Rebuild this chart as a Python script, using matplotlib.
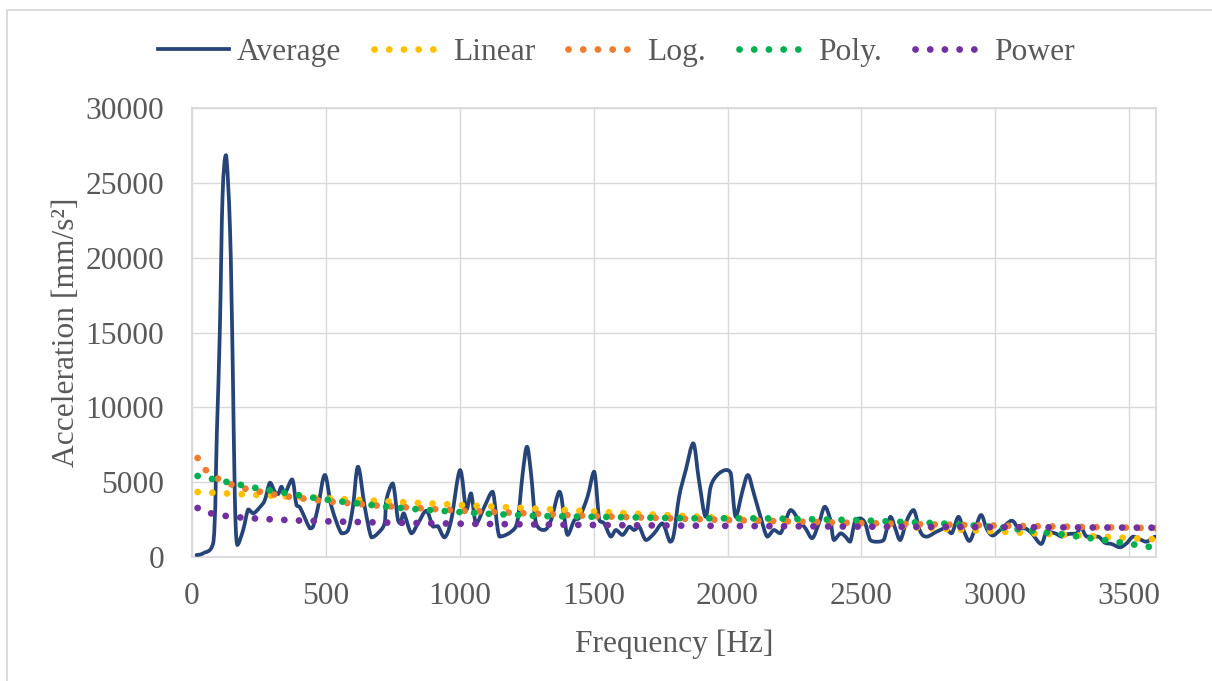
import numpy as np
import matplotlib.pyplot as plt
from matplotlib.patches import Rectangle, PathPatch
from matplotlib.path import Path
from matplotlib.lines import Line2D

# Average spectrum
freq = [17, 42, 80, 93, 104, 114, 127, 142, 152, 160, 169, 191, 210, 229, 253, 272,
        291, 309, 322, 334, 347, 374, 390, 403, 440, 452, 471, 496, 521, 558, 583,
        601, 620, 645, 670, 694, 719, 726, 750, 769, 779, 791, 819, 844, 875, 900,
        918, 943, 968, 1001, 1024, 1042, 1061, 1092, 1123, 1148, 1192, 1216, 1235,
        1251, 1266, 1285, 1316, 1341, 1372, 1390, 1403, 1428, 1446, 1477, 1502,
        1521, 1539, 1564, 1583, 1608, 1633, 1651, 1670, 1695, 1726, 1757, 1785,
        1800, 1819, 1844, 1872, 1893, 1918, 1937, 1962, 1993, 2012, 2030, 2055,
        2076, 2098, 2123, 2148, 2173, 2198, 2235, 2266, 2291, 2316, 2341, 2363,
        2384, 2397, 2422, 2440, 2458, 2477, 2496, 2514, 2533, 2558, 2583, 2608,
        2626, 2645, 2670, 2695, 2720, 2744, 2781, 2813, 2837, 2862, 2881, 2903,
        2925, 2947, 2968, 2990, 3018, 3061, 3086, 3111, 3136, 3171, 3192, 3223,
        3248, 3272, 3304, 3320, 3341, 3384, 3409, 3434, 3465, 3490, 3515, 3546,
        3564, 3596]
average = [133, 248, 1000, 8400, 15160, 24067, 26849, 21858, 12961, 4003, 800, 1804,
           3180, 2919, 3320, 3803, 4967, 4365, 4204, 4696, 4254, 5188, 3471, 3320,
           1915, 2025, 3361, 5480, 3361, 1583, 1804, 3361, 6032, 3361, 1312, 1583,
           2246, 3803, 4917, 2467, 2246, 2919, 1583, 2246, 3090, 2025, 2065, 1312,
           2467, 5811, 3140, 4254, 2246, 3361, 4365, 1362, 1694, 2467, 5590, 7367,
           5590, 2246, 1804, 2467, 4365, 2688, 1473, 2467, 2600, 4023, 5700, 2467,
           2246, 1362, 1804, 1473, 2025, 1804, 2025, 1131, 1583, 2246, 1021, 1583,
           4023, 5811, 7598, 5148, 2688, 4696, 5480, 5811, 5590, 2688, 4365, 5480,
           4254, 2688, 1362, 1804, 1583, 3140, 2467, 1915, 1252, 2246, 3361, 2467,
           1131, 1583, 1362, 1021, 2467, 2577, 2246, 1131, 1021, 1131, 2688, 1915,
           1131, 2467, 3140, 1694, 1362, 1694, 1915, 1583, 2688, 1804, 1071, 1915,
           2808, 1874, 1433, 1804, 2427, 1915, 1915, 1583, 870, 1694, 1583, 1362,
           1533, 1583, 2025, 1362, 1362, 950, 870, 650, 910, 1362, 1131, 1021, 1362]

# trendlines at a few frequencies
lin_f = [21, 3600]
lin_v = [4343, 1178]
log_f = [21, 50, 100, 150, 200, 300, 400, 500, 700, 1000, 1500, 2000, 2500, 3000, 3600]
log_v = [6615, 5826, 5195, 4826, 4564, 4195, 3933, 3730, 3424, 3100, 2731, 2469, 2266, 2100, 1934]
poly_f = [21, 131, 239, 351, 459, 571, 735, 844, 1069, 1293, 1629, 1853, 2128, 2464,
          2793, 3018, 3240, 3404, 3572, 3596]
poly_v = [5412, 5011, 4610, 4276, 3942, 3675, 3341, 3187, 2920, 2739, 2652, 2585, 2585,
          2472, 2250, 1983, 1537, 1136, 688, 640]
pow_f = [21, 50, 100, 150, 200, 300, 400, 500, 700, 1000, 1500, 2000, 2500, 3000, 3600]
pow_v = [3274, 3002, 2801, 2690, 2613, 2510, 2438, 2385, 2306, 2225, 2136, 2076, 2030, 1993, 1958]

plt.rcParams['font.family'] = ['Liberation Serif', 'DejaVu Serif']
txt = '#595959'
blue = '#264478'
fs = 22.7


def smooth_path(x, y):
    # bezier through the points, like a "smoothed line" in a spreadsheet chart;
    # control points kept inside each segment's value range so it never overshoots
    p = np.column_stack([x, y]).astype(float)
    verts = [p[0]]
    codes = [Path.MOVETO]
    n = len(p)
    for i in range(n - 1):
        p0 = p[max(i - 1, 0)]
        p3 = p[min(i + 2, n - 1)]
        c1 = p[i] + (p[i + 1] - p0) / 6
        c2 = p[i + 1] - (p3 - p[i]) / 6
        lo = min(p[i][1], p[i + 1][1])
        hi = max(p[i][1], p[i + 1][1])
        c1[1] = min(max(c1[1], lo), hi)
        c2[1] = min(max(c2[1], lo), hi)
        verts += [c1, c2, p[i + 1]]
        codes += [Path.CURVE4] * 3
    return Path(verts, codes)


fig = plt.figure(figsize=(12.12, 6.81), dpi=100)
ax = fig.add_axes([192 / 1212, 1 - 557 / 681, (1156 - 192) / 1212, (557 - 108) / 681])

ax.add_patch(PathPatch(smooth_path(freq, average), facecolor='none', edgecolor=blue,
                       linewidth=2.7, joinstyle='round', capstyle='round', zorder=3))

dots = dict(linestyle=(0, (0.01, 2.15)), dash_capstyle='round', linewidth=4.9)
ax.plot(lin_f, lin_v, color='#FFC000', label='Linear', zorder=4, **dots)
ax.plot(log_f, log_v, color='#ED7D31', label='Log.', zorder=5, **dots)
ax.plot(poly_f, poly_v, color='#00B050', label='Poly.', zorder=6, **dots)
ax.plot(pow_f, pow_v, color='#7030A0', label='Power', zorder=7, **dots)

ax.set_xlim(0, 3600)
ax.set_ylim(0, 30000)
ax.set_xticks(range(0, 3501, 500))
ax.set_yticks(range(0, 30001, 5000))
ax.grid(True, color='#D9D9D9', linewidth=1.0)
ax.set_axisbelow(True)
for s in ax.spines.values():
    s.set_color('#D9D9D9')
    s.set_linewidth(1.3)
ax.tick_params(length=0, labelsize=fs, labelcolor=txt)
ax.tick_params(axis='y', pad=20)
ax.tick_params(axis='x', pad=18)
ax.set_xlabel('Frequency [Hz]', fontsize=fs, color=txt, labelpad=13)
ax.set_ylabel('Acceleration [mm/s²]', fontsize=fs, color=txt, labelpad=3)

handles, labels = ax.get_legend_handles_labels()
handles = [Line2D([], [], color=blue, linewidth=2.7)] + handles
labels = ['Average'] + labels
fig.legend(handles, labels, loc='center', bbox_to_anchor=(616 / 1212, 1 - 52 / 681),
           ncol=5, frameon=False, fontsize=fs, labelcolor=txt, handlelength=2.25,
           handletextpad=0.25, columnspacing=1.05)

fig.patches.append(Rectangle((7 / 1212, -0.1), 1.1, 1.1 - 10 / 681,
                             transform=fig.transFigure, fill=False,
                             edgecolor='#D9D9D9', linewidth=1.3))

fig.savefig('out.png', dpi=100)
